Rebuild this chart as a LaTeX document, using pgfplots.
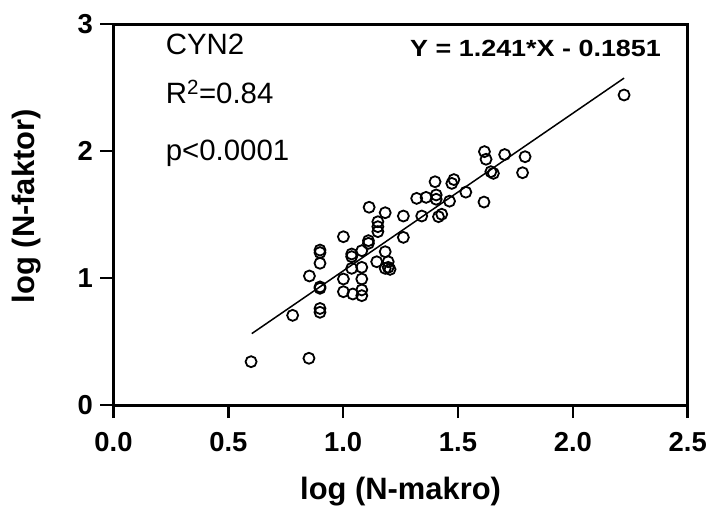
\documentclass[border=0pt]{standalone}
\usepackage{fontspec}
\setmainfont{Liberation Sans}
\newfontfamily\eqfont[FakeStretch=1.15]{Liberation Sans}
\usepackage{pgfplots}
\pgfplotsset{compat=1.18}
\begin{document}
\begin{tikzpicture}
\begin{axis}[
  at={(0,0)}, anchor=origin,
  scale only axis,
  width=574.2bp, height=381bp,
  xmin=0, xmax=2.5, ymin=0, ymax=3,
  xtick={0,0.5,1,1.5,2,2.5},
  xticklabels={0.0,0.5,1.0,1.5,2.0,2.5},
  ytick={0,1,2,3},
  tick align=outside,
  xtick pos=bottom, ytick pos=left,
  major tick length=13bp,
  every tick/.style={black, line width=2.5bp},
  axis line style={black, line width=3bp},
  /pgf/number format/assume math mode=true,
  tick label style={font=\fontsize{27.5}{30}\selectfont\bfseries},
  xticklabel style={yshift=-11bp},
  yticklabel style={xshift=-4bp},
  label style={font=\fontsize{31}{34}\selectfont\bfseries},
  xlabel={log (N-makro)},
  ylabel={log (N-faktor)},
  xlabel style={at={(axis description cs:0.5,-0.228)}, anchor=center},
  ylabel style={at={(axis description cs:-0.151,0.522)}, anchor=center},
  clip=false,
]
\addplot[only marks, mark=o, mark size=5.5bp, mark options={line width=1.8bp, black}] coordinates {
(0.599,0.341) (0.851,0.368) (0.780,0.706) (0.899,0.76) (0.899,0.73)
(0.899,0.93) (0.899,0.919) (0.853,1.016) (0.899,1.116) (0.899,1.20)
(0.899,1.22) (1.001,0.892) (1.001,0.992) (1.001,1.325) (1.042,0.874)
(1.037,1.076) (1.037,1.168) (1.037,1.189) (1.081,0.861) (1.081,0.906)
(1.081,0.992) (1.081,1.084) (1.081,1.215) (1.110,1.273) (1.110,1.294)
(1.113,1.557) (1.146,1.128) (1.151,1.365) (1.151,1.404) (1.151,1.443)
(1.183,1.076) (1.196,1.084) (1.204,1.068) (1.196,1.128) (1.183,1.207)
(1.183,1.514) (1.262,1.320) (1.262,1.488) (1.320,1.627) (1.342,1.488)
(1.361,1.635) (1.405,1.654) (1.405,1.62) (1.400,1.758) (1.415,1.483)
(1.429,1.502) (1.463,1.605) (1.473,1.745) (1.482,1.775) (1.534,1.676)
(1.613,1.598) (1.615,1.995) (1.622,1.935) (1.643,1.837) (1.654,1.824)
(1.703,1.972) (1.792,1.955) (1.781,1.829) (2.223,2.441)
};
\addplot[black, line width=1.5bp] coordinates {(0.602,0.562) (2.223,2.574)};
\node[anchor=base west, inner sep=0, font=\fontsize{29.5}{32}\selectfont] at (axis cs:0.227,2.756) {CYN2};
\node[anchor=base west, inner sep=0, font=\fontsize{29.5}{32}\selectfont] at (axis cs:0.227,2.376) {R\textsuperscript{2}=0.84};
\node[anchor=base west, inner sep=0, font=\fontsize{29.5}{32}\selectfont] at (axis cs:0.227,1.929) {p<0.0001};
\node[anchor=base west, inner sep=0, font=\eqfont\fontsize{23.5}{28}\selectfont\bfseries] at (axis cs:1.291,2.742) {Y = 1.241*X - 0.1851};
\end{axis}
\pgfresetboundingbox
\path[use as bounding box] (-113.5bp,-101bp) rectangle (597.5bp,405bp);
\end{tikzpicture}
\end{document}
